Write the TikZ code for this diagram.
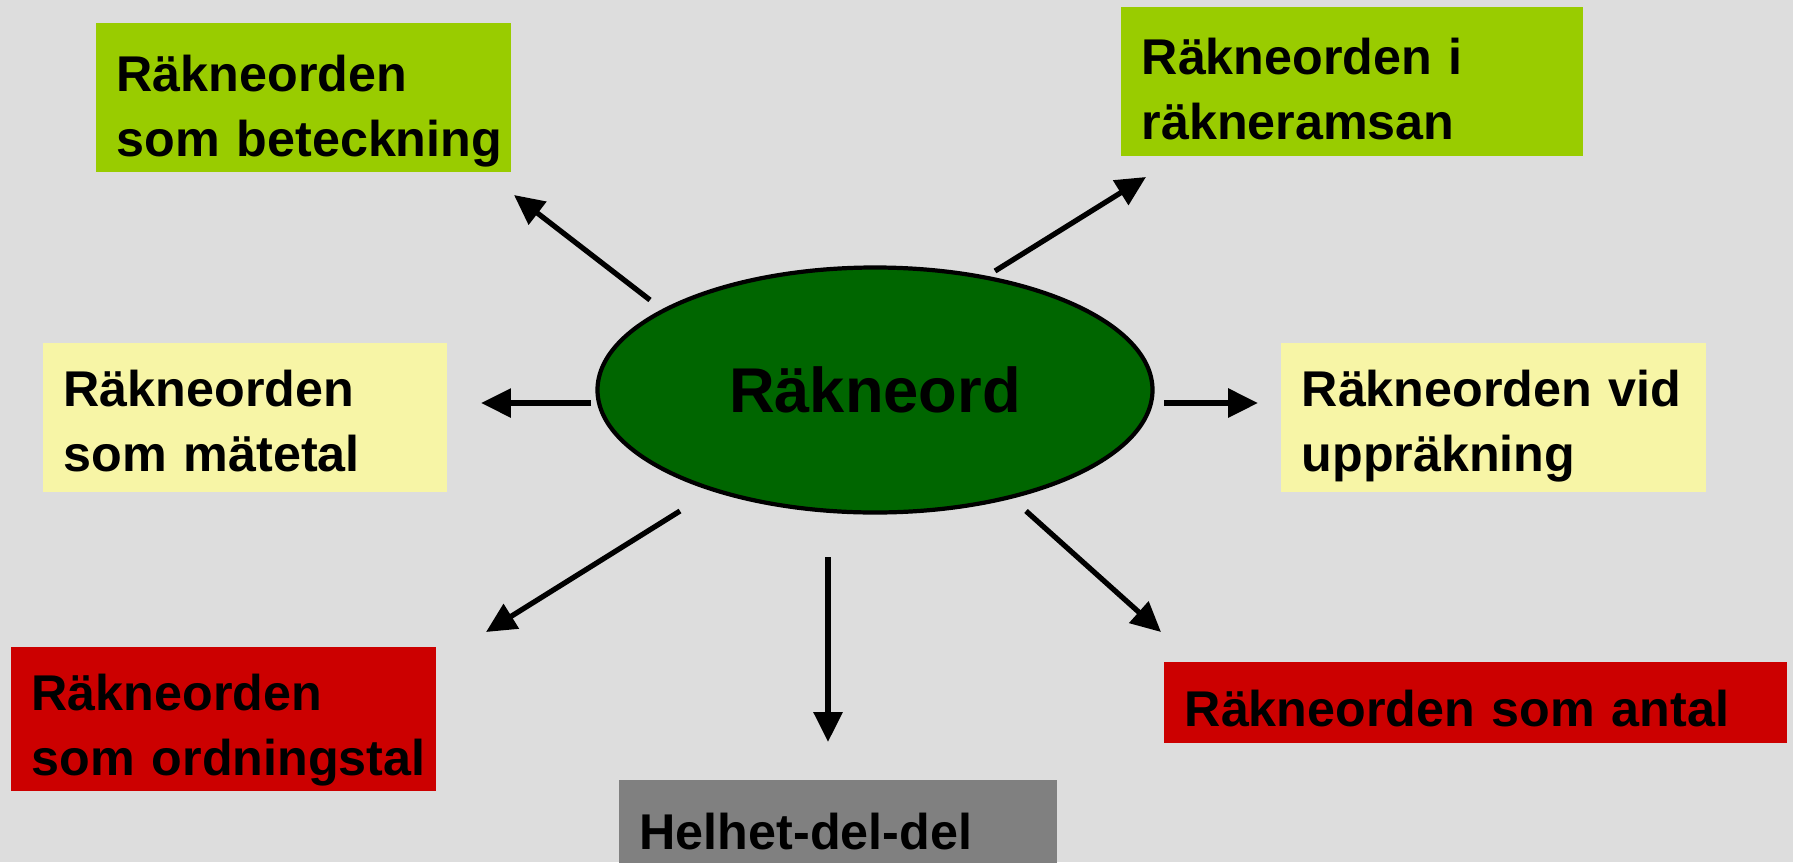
\documentclass[tikz,border=0pt]{standalone}
\usepackage{fontspec}
\setmainfont{Liberation Sans}
\usetikzlibrary{arrows.meta, shapes.geometric}

\definecolor{bggray}{RGB}{221,221,221}
\definecolor{limegreen}{RGB}{153,204,0}
\definecolor{paleyellow}{RGB}{247,245,166}
\definecolor{signalred}{RGB}{204,0,0}
\definecolor{midgray}{RGB}{128,128,128}
\definecolor{deepgreen}{RGB}{0,102,0}
\hyphenpenalty=10000
\exhyphenpenalty=10000

\begin{document}
\begin{tikzpicture}[
        every node/.style={font=\bfseries\fontsize{14.3}{18.5}\selectfont},
        box/.style={rectangle, anchor=north west, inner xsep=0.21cm, inner ysep=0pt, align=left},
        hub/.style={ellipse, draw, line width=1.2pt, fill=deepgreen, minimum width=5.55cm, minimum height=2.45cm, inner sep=0pt, font=\bfseries\fontsize{18}{22}\selectfont},
        arrow/.style={-{Triangle[length=8.5pt, width=8pt]}, line width=1.5pt}
    ]
        \useasboundingbox (0,0) rectangle (17.93,8.62);
        \fill[bggray] (0,0) rectangle (17.93,8.62);

        \node[hub] (rakneord) at (8.75,4.72) {Räkneord};

        \node[box, fill=limegreen, text width=3.73cm, text height=0.69cm, text depth=0.80cm] (beteckning) at (0.95,8.40) {Räkneorden\\som~beteckning};
        \node[box, fill=limegreen, text width=4.20cm, text height=0.68cm, text depth=0.81cm] (ramsan) at (11.20,8.56) {Räkneorden i\\räkneramsan};
        \node[box, fill=paleyellow, text width=3.62cm, text height=0.64cm, text depth=0.85cm] (matetal) at (0.42,5.20) {Räkneorden\\som mätetal};
        \node[box, fill=paleyellow, text width=3.83cm, text height=0.64cm, text depth=0.85cm] (upprakning) at (12.80,5.20) {Räkneorden~vid\\uppräkning};
        \node[box, fill=signalred, text width=3.83cm, text height=0.64cm, text depth=0.80cm] (ordningstal) at (0.10,2.16) {Räkneorden\\som~ordningstal};
        \node[box, fill=signalred, text width=5.81cm, text height=0.65cm, text depth=0.16cm] (antal) at (11.63,2.01) {Räkneorden som antal};
        \node[box, fill=midgray, text width=3.96cm, text height=0.70cm, text depth=0.30cm] (helhet) at (6.18,0.83) {Helhet-del-del};

        \coordinate (bet-s) at (6.50,5.62);
        \coordinate (bet-e) at (5.14,6.67);
        \coordinate (ram-s) at (9.95,5.91);
        \coordinate (ram-e) at (11.46,6.85);
        \coordinate (mat-s) at (5.91,4.59);
        \coordinate (mat-e) at (4.81,4.59);
        \coordinate (upp-s) at (11.64,4.59);
        \coordinate (upp-e) at (12.58,4.59);
        \coordinate (ord-s) at (6.80,3.51);
        \coordinate (ord-e) at (4.86,2.30);
        \coordinate (hel-s) at (8.28,3.05);
        \coordinate (hel-e) at (8.28,1.20);
        \coordinate (ant-s) at (10.26,3.51);
        \coordinate (ant-e) at (11.61,2.30);

        \draw[arrow] (bet-s) -- (bet-e);
        \draw[arrow] (ram-s) -- (ram-e);
        \draw[arrow] (mat-s) -- (mat-e);
        \draw[arrow] (upp-s) -- (upp-e);
        \draw[arrow] (ord-s) -- (ord-e);
        \draw[arrow] (hel-s) -- (hel-e);
        \draw[arrow] (ant-s) -- (ant-e);
    \end{tikzpicture}
\end{document}
